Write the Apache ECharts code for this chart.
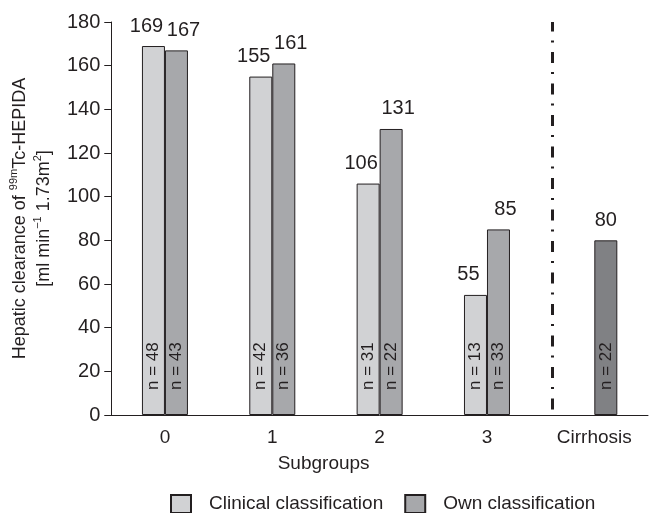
<!DOCTYPE html>
<html>
<head>
<meta charset="utf-8">
<script src="https://cdn.jsdelivr.net/npm/echarts@6/dist/echarts.min.js"></script>
<style>
  html, body { margin: 0; padding: 0; background: #ffffff; }
  #chart { width: 650px; height: 513px; }
</style>
</head>
<body>
<div id="chart"></div>
<script>
// Hepatic clearance by subgroup, clinical vs. own classification
const categories = ['0', '1', '2', '3', 'Cirrhosis'];
const clinical = [169, 155, 106, 55, null];
const own = [167, 161, 131, 85, 80];
const nClinical = [48, 42, 31, 13, null];
const nOwn = [43, 36, 22, 33, 22];
const yTicks = { min: 0, max: 180, step: 20 };

const FONT = '"Liberation Sans Narrow", "Arial Narrow", "Liberation Sans", Arial, sans-serif';
const INK = '#231f20';
const LIGHT = '#d1d2d4';
const MID = '#a7a8ab';
const DARK = '#808184';
const BAR_W = 23;

const toBars = arr => arr.map(v => (v == null ? '-' : v));
const toCaps = arr => arr.map(v => (v == null ? '-' : 0));

function countLabel(counts) {
  return {
    show: true,
    position: 'insideBottom',
    distance: 25,
    rotate: 90,
    align: 'left',
    verticalAlign: 'middle',
    fontFamily: FONT,
    fontSize: 17,
    color: INK,
    formatter: p => 'n = ' + counts[p.dataIndex]
  };
}

function valueLabel(values, dx) {
  return {
    show: true,
    position: 'top',
    distance: 10,
    offset: [dx, 0],
    fontFamily: FONT,
    fontSize: 20,
    color: INK,
    formatter: p => String(values[p.dataIndex])
  };
}

const barStyle = color => ({ color: color, borderColor: INK, borderWidth: 1 });
const capStyle = { color: 'rgba(0,0,0,0)', borderWidth: 0 };

const ownBars = toBars(own).map((v, i) =>
  categories[i] === 'Cirrhosis' ? { value: v, itemStyle: { color: DARK } } : v);
const ownCaps = toCaps(own).map((v, i) =>
  categories[i] === 'Cirrhosis' ? { value: v, label: { offset: [0, 0] } } : v);

// dash-dot separator halfway between the last subgroup and the cirrhosis bar
function renderSeparator(params, api) {
  const idx = api.value(0);
  const prev = api.coord([idx - 1, yTicks.min]);
  const cur = api.coord([idx, yTicks.min]);
  const top = api.coord([idx, yTicks.max]);
  const x = Math.round((prev[0] + BAR_W + cur[0]) / 2) + 0.5;
  return {
    type: 'line',
    shape: { x1: x, y1: top[1], x2: x, y2: cur[1] },
    style: { stroke: INK, lineWidth: 3, lineDash: [11, 9, 2, 9.5], lineDashOffset: 1.5 }
  };
}

const chart = echarts.init(document.getElementById('chart'), null, { renderer: 'canvas' });

chart.setOption({
  animation: false,
  backgroundColor: '#ffffff',
  textStyle: { fontFamily: FONT, color: INK },
  grid: { left: 107, top: 22, width: 541, height: 393, containLabel: false },
  legend: {
    data: ['Clinical classification', 'Own classification'],
    left: 170,
    top: 494,
    padding: 0,
    icon: 'rect',
    itemWidth: 20,
    itemHeight: 18,
    itemGap: 21,
    textStyle: { fontFamily: FONT, fontSize: 19, color: INK, padding: [0, 0, 0, 13] }
  },
  xAxis: {
    type: 'category',
    data: categories,
    axisLine: { show: true, lineStyle: { color: INK, width: 1 } },
    axisTick: { show: false },
    axisLabel: { interval: 0, fontFamily: FONT, fontSize: 19, color: INK, margin: 13 },
    splitLine: { show: false },
    name: 'Subgroups',
    nameLocation: 'middle',
    nameGap: 39,
    nameTextStyle: { fontFamily: FONT, fontSize: 19, color: INK, padding: [0, 112, 0, 0] }
  },
  yAxis: {
    type: 'value',
    min: yTicks.min,
    max: yTicks.max,
    interval: yTicks.step,
    axisLine: { show: true, lineStyle: { color: INK, width: 1 } },
    axisTick: { show: true, inside: false, length: 7, lineStyle: { color: INK } },
    axisLabel: { fontFamily: FONT, fontSize: 20, color: INK, margin: 11 },
    splitLine: { show: false },
    name: 'Hepatic clearance of {sup|99m}Tc-HEPIDA\n[ml min{sup|\u22121} 1.73m{sup|2}]',
    nameLocation: 'middle',
    nameRotate: 90,
    nameGap: 51,
    nameTextStyle: {
      fontFamily: FONT,
      fontSize: 18,
      color: INK,
      lineHeight: 24,
      rich: {
        sup: { fontFamily: FONT, fontSize: 11, verticalAlign: 'top', lineHeight: 14, color: INK }
      }
    }
  },
  series: [
    {
      name: 'Clinical classification',
      type: 'bar',
      stack: 'clinical',
      barWidth: BAR_W,
      barGap: '0%',
      data: toBars(clinical),
      itemStyle: barStyle(LIGHT),
      label: countLabel(nClinical)
    },
    {
      name: 'clinical-value',
      type: 'bar',
      stack: 'clinical',
      barWidth: BAR_W,
      barGap: '0%',
      data: toCaps(clinical),
      itemStyle: capStyle,
      label: valueLabel(clinical, -7),
      silent: true
    },
    {
      name: 'Own classification',
      type: 'bar',
      stack: 'own',
      barWidth: BAR_W,
      barGap: '0%',
      data: ownBars,
      itemStyle: barStyle(MID),
      label: countLabel(nOwn)
    },
    {
      name: 'own-value',
      type: 'bar',
      stack: 'own',
      barWidth: BAR_W,
      barGap: '0%',
      data: ownCaps,
      itemStyle: capStyle,
      label: valueLabel(own, 7),
      silent: true
    },
    {
      name: 'separator',
      type: 'custom',
      renderItem: renderSeparator,
      data: [['Cirrhosis', yTicks.max]],
      silent: true,
      z: 1
    }
  ]
});
</script>
</body>
</html>
